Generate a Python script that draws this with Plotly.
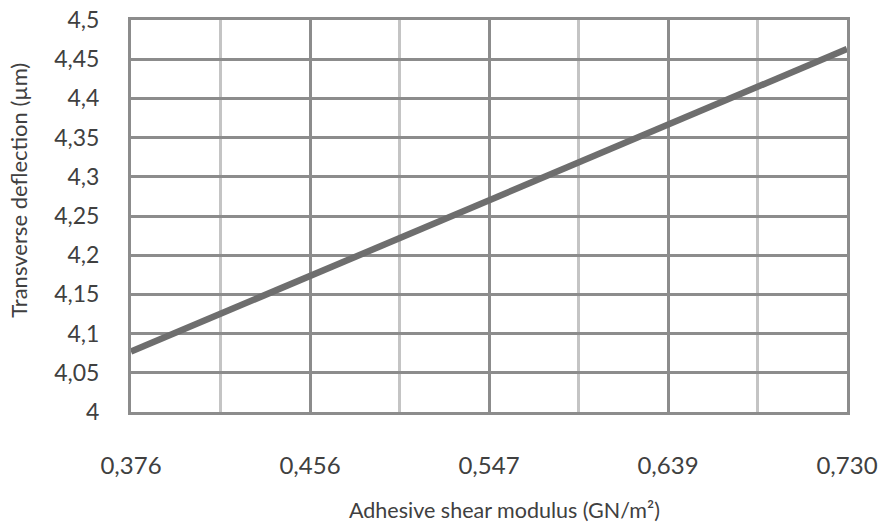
import plotly.graph_objects as go

x_labels = ["0,376", "0,456", "0,547", "0,639", "0,730"]
deflection = [4.077, 4.173, 4.270, 4.367, 4.463]
y_ticks = [4.0, 4.05, 4.1, 4.15, 4.2, 4.25, 4.3, 4.35, 4.4, 4.45, 4.5]
y_ticktext = ["4", "4,05", "4,1", "4,15", "4,2", "4,25", "4,3", "4,35", "4,4", "4,45", "4,5"]
x_title = "Adhesive shear modulus (GN/m²)"
y_title = "Transverse deflection (µm)"

x_pos = list(range(len(x_labels)))

FONT = "Lato"
TXT = "#404040"
GRID = "#8c8c8c"
MINOR = "#c4c4c4"

fig = go.Figure()
fig.add_trace(go.Scatter(
    x=x_pos, y=deflection, mode="lines",
    line=dict(color="#6e6e6e", width=6.5),
    showlegend=False, hoverinfo="skip",
))

fig.update_layout(
    width=884, height=528,
    margin=dict(l=131, r=37, t=20, b=116, autoexpand=False),
    paper_bgcolor="white", plot_bgcolor="white",
    font=dict(family=FONT, size=24, color=TXT),
    xaxis=dict(
        range=[x_pos[0], x_pos[-1]],
        tickvals=x_pos, ticktext=x_labels,
        showgrid=True, gridcolor=GRID, gridwidth=3,
        minor=dict(dtick=0.5, tick0=0, showgrid=True, gridcolor=MINOR, gridwidth=3, ticks=""),
        showline=True, linecolor=GRID, linewidth=3, mirror=True,
        ticks="", ticklabelstandoff=30, zeroline=False, automargin=False,
        tickfont=dict(size=24, color=TXT),
    ),
    yaxis=dict(
        range=[4.0, 4.5],
        tickvals=y_ticks, ticktext=y_ticktext,
        showgrid=True, gridcolor=GRID, gridwidth=3,
        showline=True, linecolor=GRID, linewidth=3, mirror=True,
        ticks="", ticklabelstandoff=24, zeroline=False, automargin=False,
        tickfont=dict(size=23, color=TXT),
    ),
    annotations=[
        dict(text=x_title, xref="paper", yref="paper", x=0.521, y=-0.25,
             xanchor="center", yanchor="middle", showarrow=False,
             font=dict(size=21.5, color=TXT)),
        dict(text=y_title, xref="paper", yref="paper", x=-0.157, y=0.566,
             xanchor="center", yanchor="middle", textangle=-90, showarrow=False,
             font=dict(size=22, color=TXT)),
    ],
)

fig.write_html("out.html", config={"displayModeBar": False},
               post_script="document.body.style.margin='0';")
